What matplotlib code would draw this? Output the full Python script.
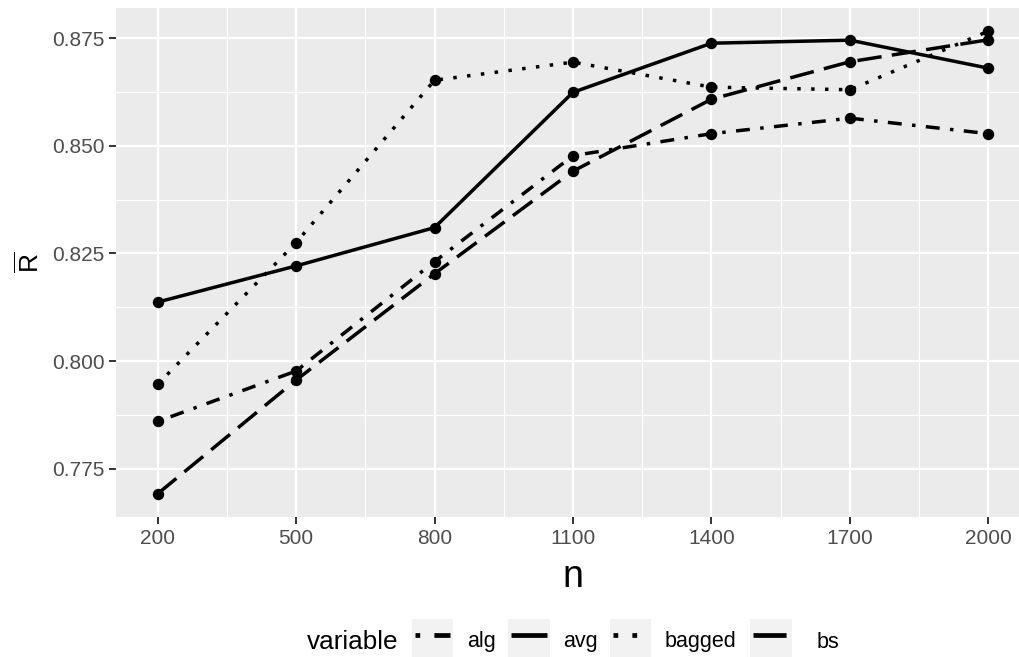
import matplotlib
matplotlib.use("Agg")
import matplotlib.pyplot as plt
from matplotlib.lines import Line2D
from matplotlib.ticker import FixedLocator

plt.rcParams['font.family'] = ['Liberation Sans', 'DejaVu Sans']
plt.rcParams['mathtext.fontset'] = 'custom'
plt.rcParams['mathtext.rm'] = 'Liberation Sans'
plt.rcParams['mathtext.it'] = 'Liberation Sans'

n_values = [200, 500, 800, 1100, 1400, 1700, 2000]
alg = [0.7860, 0.7977, 0.8231, 0.8477, 0.8528, 0.8564, 0.8528]
avg = [0.8137, 0.8221, 0.8310, 0.8624, 0.8738, 0.8745, 0.8680]
bagged = [0.7946, 0.8275, 0.8652, 0.8694, 0.8636, 0.8630, 0.8766]
bs = [0.7692, 0.7956, 0.8203, 0.8441, 0.8608, 0.8695, 0.8746]
series_names = ['alg', 'avg', 'bagged', 'bs']
series_values = [alg, avg, bagged, bs]
dash_styles = {'alg': (0, (1, 3, 4, 3)), 'avg': 'solid', 'bagged': (0, (1, 3)), 'bs': (0, (7, 3))}
x_ticks = [200, 500, 800, 1100, 1400, 1700, 2000]
y_ticks = [0.775, 0.800, 0.825, 0.850, 0.875]

W, H = 1020, 657
fig = plt.figure(figsize=(W / 100, H / 100), dpi=100)

def px(x0, y0, x1, y1):
    return [x0 / W, 1 - y1 / H, (x1 - x0) / W, (y1 - y0) / H]

ax = fig.add_axes(px(116, 8, 1030, 517))
ax.set_facecolor('#EBEBEB')
for s in ax.spines.values():
    s.set_visible(False)

for name, vals in zip(series_names, series_values):
    ax.plot(n_values, vals, color='black', lw=2.5, linestyle=dash_styles[name],
            dash_capstyle='butt', solid_capstyle='butt', zorder=3)
    ax.plot(n_values, vals, 'o', color='black', ms=7.2, zorder=4)

xmin, xmax = min(n_values), max(n_values)
xr = xmax - xmin
ax.set_xlim(xmin - 0.05 * xr, xmax + 0.05 * xr)
allv = [v for s in series_values for v in s]
ymin, ymax = min(allv), max(allv)
yr = ymax - ymin
ax.set_ylim(ymin - 0.05 * yr, ymax + 0.05 * yr)

ax.xaxis.set_major_locator(FixedLocator(x_ticks))
ax.xaxis.set_minor_locator(FixedLocator([(a + b) / 2 for a, b in zip(x_ticks[:-1], x_ticks[1:])] + [x_ticks[0] - 150]))
ax.yaxis.set_major_locator(FixedLocator(y_ticks))
ax.yaxis.set_minor_locator(FixedLocator([y_ticks[0] - 0.0125] + [(a + b) / 2 for a, b in zip(y_ticks[:-1], y_ticks[1:])] + [y_ticks[-1] + 0.0125]))
ax.set_xticklabels([str(t) for t in x_ticks])
ax.set_yticklabels(['%.3f' % t for t in y_ticks])

ax.grid(which='major', color='white', lw=1.6, zorder=0)
ax.grid(which='minor', color='white', lw=0.8, zorder=0)
ax.set_axisbelow(True)
ax.tick_params(which='major', length=4.8, width=1.4, color='#333333', labelsize=15,
               labelcolor='#4D4D4D', pad=3.5)
ax.tick_params(which='minor', length=0)

ax.set_xlabel('n', fontsize=27, labelpad=8)
ax.set_ylabel(r'$\overline{\mathrm{R}}$', fontsize=19, labelpad=6)

# legend
fig.text(307 / W, 1 - 642 / H, 'variable', fontsize=18.8, va='center', ha='left')
keys = [(412, 453), (508, 550), (610, 651), (750, 792)]
label_x = [467, 563, 665, 817]
for (k0, k1), lx, name in zip(keys, label_x, series_names):
    kax = fig.add_axes(px(k0, 619, k1, 660))
    kax.set_facecolor('#F2F2F2')
    kax.set_xlim(0, 1)
    kax.set_ylim(0, 1)
    kax.set_xticks([])
    kax.set_yticks([])
    for s in kax.spines.values():
        s.set_visible(False)
    kax.add_line(Line2D([0.08, 0.92], [0.6, 0.6], color='black', lw=3.4,
                        linestyle=dash_styles[name], dash_capstyle='butt',
                        solid_capstyle='butt'))
    fig.text(lx / W, 1 - 642 / H, name, fontsize=15.5, va='center', ha='left')

fig.savefig('out.png', dpi=100)
